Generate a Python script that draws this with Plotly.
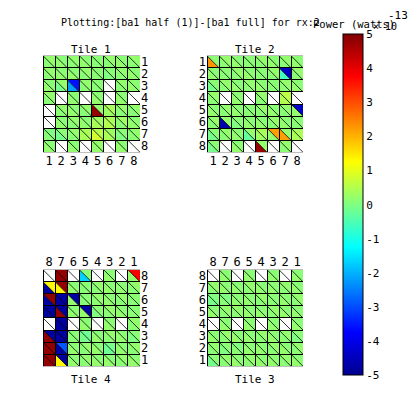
import plotly.graph_objects as go

# Cell values in units of 1e-13 W. None = no data (white).
# Each tile: rows top to bottom, cols left to right. "U" = upper-right triangle, "L" = lower-left triangle.
T1_U = [
 [0.2,0.1,0.2,0.1,0.1,0.2,0.1,0.2],
 [0.2,0.1,0.1,0.2,0.1,0.1,0.2,0.1],
 [0.1,0.2,-3.6,0.2,0.1,None,0.2,0.1],
 [0.2,None,0.1,None,0.1,None,0.1,None],
 [None,0.2,0.1,0.2,0.2,0.4,0.2,0.2],
 [None,0.1,0.2,0.1,0.3,0.4,0.3,0.1],
 [0,0.1,0.2,0.4,0.5,0.3,0.1,0.2],
 [0.1,None,0.1,None,0.2,None,0.1,None],
]
T1_L = [
 [0.1,0.2,0.1,0.2,0.1,0.1,0.2,0.1],
 [0.1,0.2,0.2,0.1,0.1,0,0.1,0.2],
 [0.2,-0.1,-2.2,0.1,0.1,None,0.1,0.2],
 [0.1,None,0.2,None,0.2,None,0.2,None],
 [None,0.1,0.2,0.1,4.8,0.3,0.1,0.1],
 [None,0.2,0.1,0.2,0.4,0.5,0.1,0.2],
 [0.1,-0.1,0.1,0.4,0.8,0.4,0,0.1],
 [0.2,None,0.2,None,0.2,None,0.2,None],
]
T2_U = [
 [0.1,0.2,0.1,0.1,0.2,0.1,0.2,0.1],
 [0.1,0.1,0.2,0.1,0.1,0.2,-4.4,0.2],
 [0.1,0.2,0.1,0.2,0.1,0.1,0.2,0.1],
 [0.2,None,0.1,None,0.2,None,0.6,None],
 [0.1,0.2,0.1,0.1,0.2,0.1,0.2,-4.4],
 [0.2,0.2,0.1,0.1,0.1,0.2,0.1,0.1],
 [0.1,0.2,0.1,0.2,0.4,2.2,0.2,0.4],
 [0.1,None,0.1,None,0.2,None,0.2,None],
]
T2_L = [
 [2.3,0.1,0.2,0.1,0.1,0.2,0.1,0.2],
 [0.2,0.1,0.1,0.2,0.1,0.1,-0.6,0.1],
 [-0.1,0.1,0.2,0.1,0.2,0.1,0.1,0.2],
 [0.1,None,0.2,None,0.1,None,0.5,None],
 [0.2,0.1,0.2,0.1,0.1,0.2,0.1,0.2],
 [0.1,-4.7,0,0.2,0.2,0.1,0.2,0.1],
 [-0.1,0.1,0.2,-0.3,0.3,0.2,2.2,0.4],
 [-0.1,None,0.2,None,4.8,None,0.1,None],
]
T3_U = [
 [None,0.1,None,0.1,None,0.1,None,0.1],
 [0.2,0.1,0.1,0.2,0.1,0.1,0.2,0.1],
 [0,0,0.1,0.1,0.2,0.1,0.1,0.2],
 [0.1,0.2,0.2,0.1,0.1,0.2,0.1,0.1],
 [None,0.1,None,0.1,None,0.1,None,0.1],
 [0.1,0.2,0.1,0.1,0.2,0.1,0.2,0.1],
 [0.2,0.1,0,0.1,0.1,0.2,0.1,0.2],
 [0.1,0.2,0.1,0.2,0.1,0.1,0.2,0.1],
]
T3_L = [
 [None,0.2,None,0.2,None,0.2,None,0.2],
 [0.1,0.2,0.2,0.1,0.2,0.2,0.1,0.2],
 [-0.1,0.1,0.2,0.2,0.1,0.1,0.2,0.1],
 [0.2,0.1,0.1,0.2,0.2,0.1,0.2,0.2],
 [None,0.2,None,0.2,None,0.2,None,0.2],
 [0.2,0.1,0.2,0.2,0.1,0.2,0.1,0],
 [0.1,0,0.1,0.2,0.2,0.1,0.2,0.1],
 [-0.1,0.1,0.2,0.1,0.2,0.2,0.1,0.2],
]
T4_U = [
 [None,4.8,None,0.1,None,0.1,None,3.8],
 [1.3,4.8,0.1,0.1,0.2,0.1,0.1,0.2],
 [4.8,-4.8,-4.8,0.1,0.2,0.1,0.2,0.1],
 [-4.8,-4.8,0.1,-4.8,0.1,0.2,0.1,0.1],
 [None,-4.8,None,0.1,None,0.1,None,0.2],
 [-4.8,-4.8,0.1,-0.2,0.1,0.2,0.1,0.1],
 [4.8,-2.9,0.1,0.2,0.1,-0.1,0.1,0.2],
 [4.8,-4.8,0.1,0.2,0.1,0.1,0.2,0.1],
]
T4_L = [
 [None,4.8,None,-1.7,None,0.2,None,0.2],
 [-4.8,1.3,0.2,0.1,0.1,0.2,0.2,0.1],
 [-4.8,-4.8,0.2,0.1,0.1,0.2,0.1,0.1],
 [-4.8,4.8,0.2,0.2,0,0.1,0.2,0.1],
 [None,-4.8,None,0.2,None,0.2,None,0.1],
 [4.8,-4.8,0.1,-0.1,0.2,0.1,0.2,0],
 [4.8,-4.8,0.2,0.1,0.2,-0.2,0.2,0.1],
 [4.8,1.3,0.2,0.1,0.2,0.2,0.1,0.2],
]

cols_fwd = ["1", "2", "3", "4", "5", "6", "7", "8"]
cols_rev = ["8", "7", "6", "5", "4", "3", "2", "1"]
cbar_ticks = [-5, -4, -3, -2, -1, 0, 1, 2, 3, 4, 5]

JET = [(0, "#00008f"), (0.125, "#0000ff"), (0.375, "#00ffff"), (0.5, "#80ff80"),
       (0.625, "#ffff00"), (0.875, "#ff0000"), (1, "#800000")]


def hex2rgb(h):
    return tuple(int(h[i:i + 2], 16) for i in (1, 3, 5))


def jet(v):
    t = min(1, max(0, (v + 5) / 10))
    for (a, ca), (b, cb) in zip(JET, JET[1:]):
        if t <= b:
            f = (t - a) / (b - a)
            A, B = hex2rgb(ca), hex2rgb(cb)
            return "rgb(%d,%d,%d)" % tuple(round(A[i] + f * (B[i] - A[i])) for i in range(3))
    return JET[-1][1]


W = H = 420
fig = go.Figure()


def px_x(a, b):
    return [a / W, b / W]


def px_y(top, bot):
    return [1 - bot / H, 1 - top / H]


tiles = [
    (T1_U, T1_L, (43, 140), (55, 152), cols_fwd, cols_fwd, "bottom", "right", ""),
    (T2_U, T2_L, (207, 303), (55, 152), cols_fwd, cols_fwd, "bottom", "left", "2"),
    (T3_U, T3_L, (207, 303), (270, 367), cols_rev, cols_rev, "top", "left", "3"),
    (T4_U, T4_L, (43, 140), (270, 367), cols_rev, cols_rev, "top", "right", "4"),
]

for U, L, xp, yp, xl, yl, xs, ys, aid in tiles:
    xa, ya = "x" + aid, "y" + aid
    groups = {}
    for r in range(8):
        for c in range(8):
            for val, tri in ((U[r][c], [(c, r), (c + 1, r), (c + 1, r + 1)]),
                             (L[r][c], [(c, r), (c, r + 1), (c + 1, r + 1)])):
                if val is None:
                    continue
                g = groups.setdefault(jet(val), ([], []))
                for px, py in tri + [tri[0]]:
                    g[0].append(px)
                    g[1].append(py)
                g[0].append(None)
                g[1].append(None)
    for col, (gx, gy) in groups.items():
        fig.add_trace(go.Scatter(x=gx, y=gy, xaxis=xa, yaxis=ya, mode="lines", fill="toself",
                                 fillcolor=col, line=dict(width=0), hoverinfo="skip", showlegend=False))
    gx, gy = [], []
    for i in range(9):
        gx += [i, i, None, 0, 8, None]
        gy += [0, 8, None, i, i, None]
    fig.add_trace(go.Scatter(x=gx, y=gy, xaxis=xa, yaxis=ya, mode="lines", cliponaxis=False,
                             line=dict(color="black", width=1), hoverinfo="skip", showlegend=False))
    dx, dy = [], []
    for i in range(8):
        for j in range(8):
            dx += [i, i + 1, None]
            dy += [j, j + 1, None]
    fig.add_trace(go.Scatter(x=dx, y=dy, xaxis=xa, yaxis=ya, mode="lines",
                             line=dict(color="black", width=0.8), hoverinfo="skip", showlegend=False))
    xkey = "xaxis" + aid
    ykey = "yaxis" + aid
    tv = [i + 0.5 for i in range(8)]
    fig.update_layout({
        xkey: dict(domain=px_x(*xp), range=[0, 8], anchor=ya, side=xs, tickmode="array", tickvals=tv,
                   ticktext=xl, showgrid=False, zeroline=False, ticks="", ticklen=0,
                   tickfont=dict(family="DejaVu Sans Mono", size=12, color="black"), showline=False),
        ykey: dict(domain=px_y(*yp), range=[8, 0], anchor=xa, side=ys, tickmode="array", tickvals=tv,
                   ticktext=yl, showgrid=False, zeroline=False, ticks="",
                   tickfont=dict(family="DejaVu Sans Mono", size=12, color="black"), showline=False),
    })

fig.add_trace(go.Scatter(
    x=[None], y=[None], mode="markers", showlegend=False, hoverinfo="skip",
    marker=dict(color=[0], cmin=-5, cmax=5, colorscale=[[a, c] for a, c in JET], showscale=True,
                colorbar=dict(x=343 / W, xanchor="left", xref="paper", y=1 - 376 / H, yanchor="bottom",
                              yref="paper", len=343 / H, lenmode="fraction", thickness=20,
                              thicknessmode="pixels", outlinecolor="black", outlinewidth=1,
                              tickmode="array", tickvals=cbar_ticks, ticktext=[str(t) for t in cbar_ticks],
                              ticks="", ticklen=0,
                              tickfont=dict(family="DejaVu Sans Mono", size=11, color="black"),
                              xpad=0, ypad=0)),
))


def note(text, x, y, size=11, anchor="left"):
    fig.add_annotation(text=text, xref="paper", yref="paper", x=x / W, y=1 - y / H, showarrow=False,
                       xanchor=anchor, yanchor="middle", align="left", borderpad=0,
                       font=dict(family="DejaVu Sans Mono", size=size, color="black"))


note("Plotting:[ba1 half (1)]-[ba1 full] for rx:2", 60, 22, size=10)
note("Power (watts)", 312, 23, size=10.5)
note("\u00d7 10", 372, 26, size=10)
note("-13", 387, 15, size=11)
note("Tile 1", 91, 49, size=11, anchor="center")
note("Tile 2", 255, 49, size=11, anchor="center")
note("Tile 3", 255, 380, size=11, anchor="center")
note("Tile 4", 91, 380, size=11, anchor="center")

fig.update_layout(width=W, height=H, margin=dict(l=0, r=0, t=0, b=0), paper_bgcolor="white",
                  plot_bgcolor="white")
fig.write_html("out.html", config=dict(displayModeBar=False),
               post_script="document.body.style.margin='0';document.documentElement.style.overflow='hidden';"
                           "document.querySelectorAll('.scatterlayer path.js-line').forEach(function(p){"
                           "if(parseFloat(p.style.strokeWidth)>=1){p.style.shapeRendering='crispEdges';}});")
